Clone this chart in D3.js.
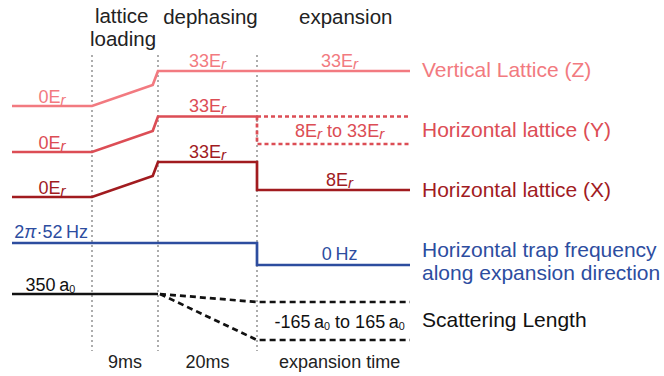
<!DOCTYPE html>
<html>
<head>
<meta charset="utf-8">
<script src="https://cdn.jsdelivr.net/npm/d3@7"></script>
<style>
  body { margin: 0; background: #fff; }
  svg text { font-family: "Liberation Sans", Arial, sans-serif; }
</style>
</head>
<body>
<svg id="seq" width="664" height="376"></svg>
<script>
/*
******************************** DATA ********************************
*/
// schematic time axis: 0 start, 1 loading start, 2 loading end, 3 dephasing end, 4 end
var phaseEdges = [1, 2, 3];
var knee = 1.92; // end of slow ramp, start of fast ramp

// schematic levels (drawing units)
var zPath = [[0, 254], [1, 254], [knee, 275], [2, 289], [4, 289]];
var yPath = [[0, 208], [1, 208], [knee, 229], [2, 243.5], [3, 243.5]];
var yUpper = [[3, 243.5], [4, 243.5]];
var yLower = [[3, 243.5], [3, 216], [4, 216]];
var xPath = [[0, 163], [1, 163], [knee, 184], [2, 198], [3, 198], [3, 170], [4, 170]];
var trapPath = [[0, 117], [3, 117], [3, 95], [4, 95]];
var scatPath = [[0, 66], [2, 66]];
var scatUpper = [[2.02, 66], [3, 58], [4, 58]];
var scatLower = [[2.02, 66], [3, 20], [4, 20]];

var seriesNames = ["Vertical Lattice (Z)", "Horizontal lattice (Y)", "Horizontal lattice (X)",
                   "Horizontal trap frequency|along expansion direction", "Scattering Length"];
var seriesLevels = [283, 223.5, 163.5, 103.5, 33.5];   // baseline of right-hand names

// value annotations: text, time, baseline level
var zLabels = [["0E_r", 0.5, 256.7], ["33E_r", 2.5, 293.3], ["33E_r", 3.54, 293.3]];
var yLabels = [["0E_r", 0.5, 210.7], ["33E_r", 2.5, 248.3], ["8E_r to 33E_r", 3.54, 223.3]];
var xLabels = [["0E_r", 0.5, 166], ["33E_r", 2.5, 202.3], ["8E_r", 3.54, 174]];
var trapLabels = [["2_pi\u00b752\u2009Hz", 0.49, 121.7], ["0\u2009Hz", 3.54, 100]];
var scatLabels = [["350\u2009a_0", 0.48, 69.3], ["-165\u2009a_0 to 165\u2009a_0", 3.54, 32]];

var phaseTitles = [["lattice", 1.45, 337.5], ["loading", 1.47, 314.5], ["dephasing", 2.53, 336], ["expansion", 3.58, 336]];
var durations = [["9ms", 1.5, -8], ["20ms", 2.5, -8], ["expansion time", 3.54, -8]];

/*
******************************** SETUP ********************************
*/
var svg = d3.select("#seq");
var x = d3.scaleLinear().domain([0, 1, 2, 3, 4]).range([12, 92, 158, 257, 410]);
var y = d3.scaleLinear().domain([0, 300]).range([360, 60]);

var colZ = "#f27a80", colY = "#dc4d55", colX = "#a11b1f", colTrap = "#2d4d9f", colScat = "#111";

var line = d3.line().x(function (d) { return x(d[0]); }).y(function (d) { return y(d[1]); });

// dotted phase separators
svg.selectAll(".sep").data(phaseEdges).enter().append("line")
    .attr("x1", function (d) { return x(d); }).attr("x2", function (d) { return x(d); })
    .attr("y1", y(305)).attr("y2", y(9))
    .attr("stroke", "#8a8a8a").attr("stroke-width", 1.4).attr("stroke-dasharray", "2,3");

function drawPath(pts, col, dashed) {
    svg.append("path").datum(pts).attr("d", line)
        .attr("fill", "none").attr("stroke", col).attr("stroke-width", 2.7)
        .attr("stroke-linejoin", "miter")
        .attr("stroke-dasharray", dashed ? dashed : null);
}

drawPath(zPath, colZ);
drawPath(yPath, colY);
drawPath(yUpper, colY, "4,3");
drawPath(yLower, colY, "4,3");
drawPath(xPath, colX);
drawPath(trapPath, colTrap);
drawPath(scatPath, colScat);
drawPath(scatUpper, colScat, "6,4");
drawPath(scatLower, colScat, "6,4");

// text with E_r / a_0 / _pi markup (subscripts done with dy, shift carried to the next piece)
function rich(sel, str) {
    var parts = str.split(/(E_r|a_0|_pi)/).filter(function (p) { return p.length; });
    var back = 0;
    parts.forEach(function (p) {
        if (p === "E_r") {
            sel.append("tspan").text("E").attr("dy", back || null);
            sel.append("tspan").text("r").attr("font-style", "italic")
                .attr("font-size", "0.85em").attr("dy", 2);
            back = -2;
        } else if (p === "a_0") {
            sel.append("tspan").text("a").attr("dy", back || null);
            sel.append("tspan").text("0").attr("font-size", "0.6em").attr("dy", 2);
            back = -2;
        } else if (p === "_pi") {
            sel.append("tspan").text("\u03c0").attr("font-style", "italic").attr("dy", back || null);
            back = 0;
        } else {
            sel.append("tspan").text(p).attr("dy", back || null);
            back = 0;
        }
    });
}

function drawLabels(list, col) {
    list.forEach(function (d) {
        var t = svg.append("text")
            .attr("x", x(d[1])).attr("y", y(d[2]))
            .attr("text-anchor", "middle")
            .attr("font-size", 18).attr("fill", col);
        rich(t, d[0]);
    });
}
drawLabels(zLabels, colZ);
drawLabels(yLabels, colY);
drawLabels(xLabels, colX);
drawLabels(trapLabels, colTrap);
drawLabels(scatLabels, colScat);

// right-hand names
var nameCols = [colZ, colY, colX, colTrap, colScat];
seriesNames.forEach(function (n, i) {
    n.split("|").forEach(function (s, j) {
        svg.append("text").attr("x", 422).attr("y", y(seriesLevels[i]) + j * 23.3)
            .attr("font-size", 21).attr("fill", nameCols[i]).text(s);
    });
});

// phase titles and durations
phaseTitles.forEach(function (d) {
    svg.append("text").attr("x", x(d[1])).attr("y", y(d[2]))
        .attr("text-anchor", "middle").attr("font-size", 20.5).attr("fill", "#222").text(d[0]);
});
durations.forEach(function (d) {
    svg.append("text").attr("x", x(d[1])).attr("y", y(d[2]))
        .attr("text-anchor", "middle").attr("font-size", 18).attr("fill", "#222").text(d[0]);
});
</script>
</body>
</html>
